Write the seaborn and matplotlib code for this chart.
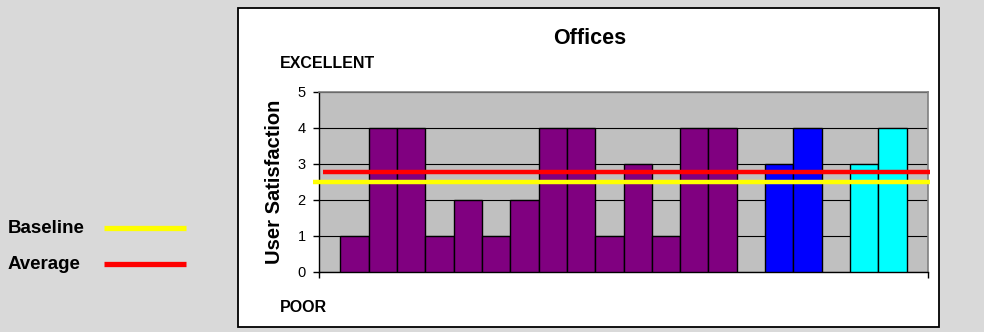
import matplotlib
matplotlib.use("Agg")
import matplotlib.pyplot as plt
from matplotlib.patches import Rectangle
from matplotlib.lines import Line2D
import numpy as np
import pandas as pd
import seaborn as sns

# Satisfaction scores (0 = poor, 5 = excellent) per office, in three groups
group_names = ["Group 1", "Group 2", "Group 3"]
group_scores = [
    [1, 4, 4, 1, 2, 1, 2, 4, 4, 1, 3, 1, 4, 4],
    [3, 4],
    [3, 4],
]
group_colors = ["#800080", "#0000FF", "#00FFFF"]
baseline = 2.5
y_ticks = [0, 1, 2, 3, 4, 5]

# Lay bars out side by side, leaving one empty slot between groups
rows = []
slot = 0
for name, scores in zip(group_names, group_scores):
    for s in scores:
        rows.append({"pos": slot, "score": s, "group": name})
        slot += 1
    slot += 1
df = pd.DataFrame(rows)
average = float(np.mean(np.concatenate(group_scores)))

sns.set_theme(style="ticks")
plt.rcParams["font.family"] = ["Liberation Sans", "DejaVu Sans"]
for key in ("text.color", "axes.labelcolor", "xtick.color", "ytick.color"):
    plt.rcParams[key] = "black"

fig = plt.figure(figsize=(9.84, 3.32), dpi=100)
fig.patch.set_facecolor("#d9d9d9")

# White chart panel
fig.patches.append(Rectangle((0.2422, 0.016), 0.7124, 0.959, transform=fig.transFigure,
                             facecolor="white", edgecolor="black", linewidth=1.3, zorder=-5))

ax = fig.add_axes([0.3242, 0.1816, 0.6189, 0.5422])
ax.set_zorder(2)
ax.set_facecolor("#c0c0c0")

sns.barplot(data=df, x="pos", y="score", hue="group", native_scale=True, dodge=False,
            width=1.0, palette=dict(zip(group_names, group_colors)), saturation=1,
            edgecolor="black", linewidth=1.0, legend=False, ax=ax, zorder=3)

ax.set_xlim(df["pos"].min() - 1.25, df["pos"].max() + 1.25)
ax.set_ylim(0, 5)
ax.set_yticks(y_ticks)
ax.set_yticklabels([str(t) for t in y_ticks], fontsize=10.5)
ax.set_xticks([df["pos"].min() - 1.25, df["pos"].max() + 1.25])
ax.set_xticklabels([])
ax.tick_params(axis="y", length=4, width=1, color="black", pad=5.5)
ax.tick_params(axis="x", length=4, width=1, color="black")
ax.grid(axis="y", color="black", linewidth=0.8, zorder=1)
ax.set_axisbelow(True)
ax.set_xlabel("")
ax.set_ylabel("User Satisfaction", fontsize=14.5, fontweight="bold")
ax.yaxis.set_label_coords(-0.058, 0.5)

for side in ("left", "bottom"):
    ax.spines[side].set_color("black")
    ax.spines[side].set_linewidth(1.0)
for side in ("top", "right"):
    ax.spines[side].set_visible(True)
    ax.spines[side].set_color("#808080")
    ax.spines[side].set_linewidth(1.2)

# Reference lines
ax.axhline(average, xmin=0.006, xmax=1.0033, color="#ff0000", linewidth=3.2,
           zorder=5, clip_on=False, solid_capstyle="butt")
ax.axhline(baseline, xmin=-0.0094, xmax=1.0033, color="#ffff00", linewidth=3.2,
           zorder=5, clip_on=False, solid_capstyle="butt")

# Texts around the plot
fig.text(0.599, 0.8855, "Offices", ha="center", va="center", fontsize=15.5, fontweight="bold")
fig.text(0.2846, 0.810, "EXCELLENT", ha="left", va="center", fontsize=11.5, fontweight="bold")
fig.text(0.2846, 0.0723, "POOR", ha="left", va="center", fontsize=11.5, fontweight="bold")

# Key for the reference lines
fig.text(0.008, 0.313, "Baseline", ha="left", va="center", fontsize=13.5, fontweight="bold")
fig.text(0.008, 0.204, "Average", ha="left", va="center", fontsize=13.5, fontweight="bold")
fig.lines.append(Line2D([0.1057, 0.189], [0.313, 0.313], transform=fig.transFigure,
                        color="#ffff00", linewidth=3.8, solid_capstyle="butt"))
fig.lines.append(Line2D([0.1057, 0.189], [0.204, 0.204], transform=fig.transFigure,
                        color="#ff0000", linewidth=3.8, solid_capstyle="butt"))

fig.savefig("out.png", dpi=100, facecolor=fig.get_facecolor())
